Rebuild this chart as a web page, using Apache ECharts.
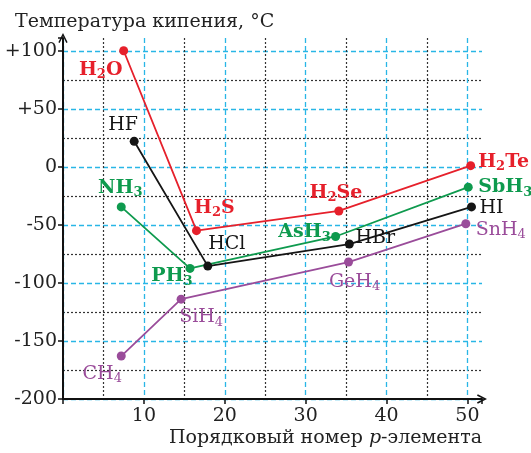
<!DOCTYPE html>
<html>
<head>
<meta charset="utf-8">
<script src="https://cdn.jsdelivr.net/npm/echarts@6/dist/echarts.min.js"></script>
<style>
  html, body { margin: 0; padding: 0; background: #fff; }
  #boiling_chart { width: 531px; height: 453px; }
</style>
</head>
<body>
<div id="boiling_chart"></div>
<script>
  // hydrides by group: x = atomic number of p-element, y = boiling point, °C
  var namesO = ['H2O', 'H2S', 'H2Se', 'H2Te']
  var xO = [7.5, 16.5, 34.1, 50.4]
  var yO = [100, -55, -38, 1]

  var namesF = ['HF', 'HCl', 'HBr', 'HI']
  var xF = [8.8, 17.9, 35.4, 50.5]
  var yF = [22, -85.5, -66.5, -34.5]

  var namesN = ['NH3', 'PH3', 'AsH3', 'SbH3']
  var xN = [7.2, 15.7, 33.7, 50.1]
  var yN = [-34.5, -87.5, -60, -17.5]

  var namesC = ['CH4', 'SiH4', 'GeH4', 'SnH4']
  var xC = [7.2, 14.6, 35.3, 49.8]
  var yC = [-163, -114, -82, -49]

  var xTicks = [10, 20, 30, 40, 50]
  var yTicks = [-200, -150, -100, -50, 0, 50, 100]

  // label offsets from the point (px)
  var labelOffsets = {
    'H2O': [-23, 19], 'H2S': [18, -23], 'H2Se': [-3, -18], 'H2Te': [33, -4],
    'HF': [-11, -16], 'HCl': [19, -22], 'HBr': [26, -6], 'HI': [20, 1],
    'NH3': [-1, -19], 'PH3': [-18, 8], 'AsH3': [-31, -4], 'SbH3': [37, 0],
    'CH4': [-19, 18], 'SiH4': [20, 18], 'GeH4': [6, 20], 'SnH4': [35, 6]
  }

  var FONT = 'DejaVu Serif'

  function buildData (names, xs, ys) {
    return names.map(function (n, i) {
      return {
        name: n,
        value: [xs[i], ys[i]],
        label: { offset: labelOffsets[n] }
      }
    })
  }

  function makeSeries (names, xs, ys, color, bold) {
    var w = bold ? 'bold' : 'normal'
    return {
      type: 'line',
      data: buildData(names, xs, ys),
      symbol: 'circle',
      symbolSize: 9,
      lineStyle: { color: color, width: 1.8 },
      itemStyle: { color: color },
      z: 5,
      label: {
        show: true,
        position: 'inside',
        color: color,
        fontFamily: FONT,
        fontSize: 19,
        fontWeight: w,
        formatter: function (p) {
          return p.name.replace(/(\d)/g, '{s|$1}')
        },
        rich: {
          s: {
            fontFamily: FONT,
            fontSize: 13,
            fontWeight: w,
            color: color,
            padding: [10, 0, 0, 0],
            verticalAlign: 'bottom'
          }
        }
      }
    }
  }

  var chart = echarts.init(document.getElementById('boiling_chart'))
  var arrow = 'path://M0,10 L5,0 L10,10 L8.6,10.8 L5,3.6 L1.4,10.8 Z'
  var option = {
    animation: false,
    title: {
      text: 'Температура кипения, °C',
      left: 10,
      top: 8,
      textStyle: { fontFamily: FONT, fontSize: 19, fontWeight: 'normal', color: '#222' }
    },
    grid: { left: 63, right: 49, top: 38, bottom: 54 },
    xAxis: [
      {
        type: 'value',
        min: 0,
        max: 51.8,
        interval: 10,
        position: 'bottom',
        name: 'Порядковый номер {i|p}-элемента',
        nameLocation: 'end',
        nameGap: 0,
        nameTextStyle: {
          fontFamily: FONT,
          fontSize: 19,
          color: '#222',
          align: 'right',
          verticalAlign: 'top',
          padding: [30, 0, 0, 0],
          rich: {
            i: { fontFamily: FONT, fontSize: 19, fontStyle: 'italic', color: '#222' }
          }
        },
        axisLine: {
          show: true,
          onZero: false,
          lineStyle: { color: '#111', width: 2 },
          symbol: ['none', arrow],
          symbolSize: [16, 10]
        },
        axisTick: { show: true, length: 5, lineStyle: { color: '#111', width: 1.5 } },
        axisLabel: {
          fontFamily: FONT,
          fontSize: 19,
          color: '#222',
          margin: 8,
          formatter: function (v) {
            return xTicks.indexOf(v) >= 0 ? String(v) : ''
          }
        },
        splitLine: {
          show: true,
          showMaxLine: false,
          lineStyle: { color: '#29b6e6', type: [5, 3], width: 1.3 }
        }
      },
      {
        type: 'value',
        min: 0,
        max: 51.8,
        interval: 5,
        position: 'top',
        axisLine: { show: false, onZero: false },
        axisTick: { show: false },
        axisLabel: { show: false },
        splitLine: {
          show: true,
          showMaxLine: false,
          lineStyle: { color: ['transparent', '#333'], type: [2, 2], width: 1.2 }
        }
      }
    ],
    yAxis: [
      {
        type: 'value',
        min: -200,
        max: 111,
        interval: 50,
        position: 'left',
        axisLine: {
          show: true,
          onZero: false,
          lineStyle: { color: '#111', width: 2 },
          symbol: ['none', arrow],
          symbolSize: [16, 10]
        },
        axisTick: { show: true, length: 5, lineStyle: { color: '#111', width: 1.5 } },
        axisLabel: {
          fontFamily: FONT,
          fontSize: 19,
          color: '#222',
          margin: 6,
          formatter: function (v) {
            if (yTicks.indexOf(v) < 0) return ''
            return v > 0 ? '+' + v : String(v)
          }
        },
        splitLine: {
          show: true,
          showMaxLine: false,
          lineStyle: { color: '#29b6e6', type: [5, 3], width: 1.3 }
        }
      },
      {
        type: 'value',
        min: -200,
        max: 111,
        interval: 25,
        position: 'right',
        axisLine: { show: false, onZero: false },
        axisTick: { show: false },
        axisLabel: { show: false },
        splitLine: {
          show: true,
          showMaxLine: false,
          lineStyle: { color: ['transparent', '#333'], type: [2, 2], width: 1.2 }
        }
      }
    ],
    series: [
      makeSeries(namesO, xO, yO, '#e6202b', true),
      makeSeries(namesF, xF, yF, '#151515', false),
      makeSeries(namesN, xN, yN, '#0e9a4e', true),
      makeSeries(namesC, xC, yC, '#9a4c9a', false)
    ]
  }
  chart.setOption(option)
</script>
</body>
</html>
